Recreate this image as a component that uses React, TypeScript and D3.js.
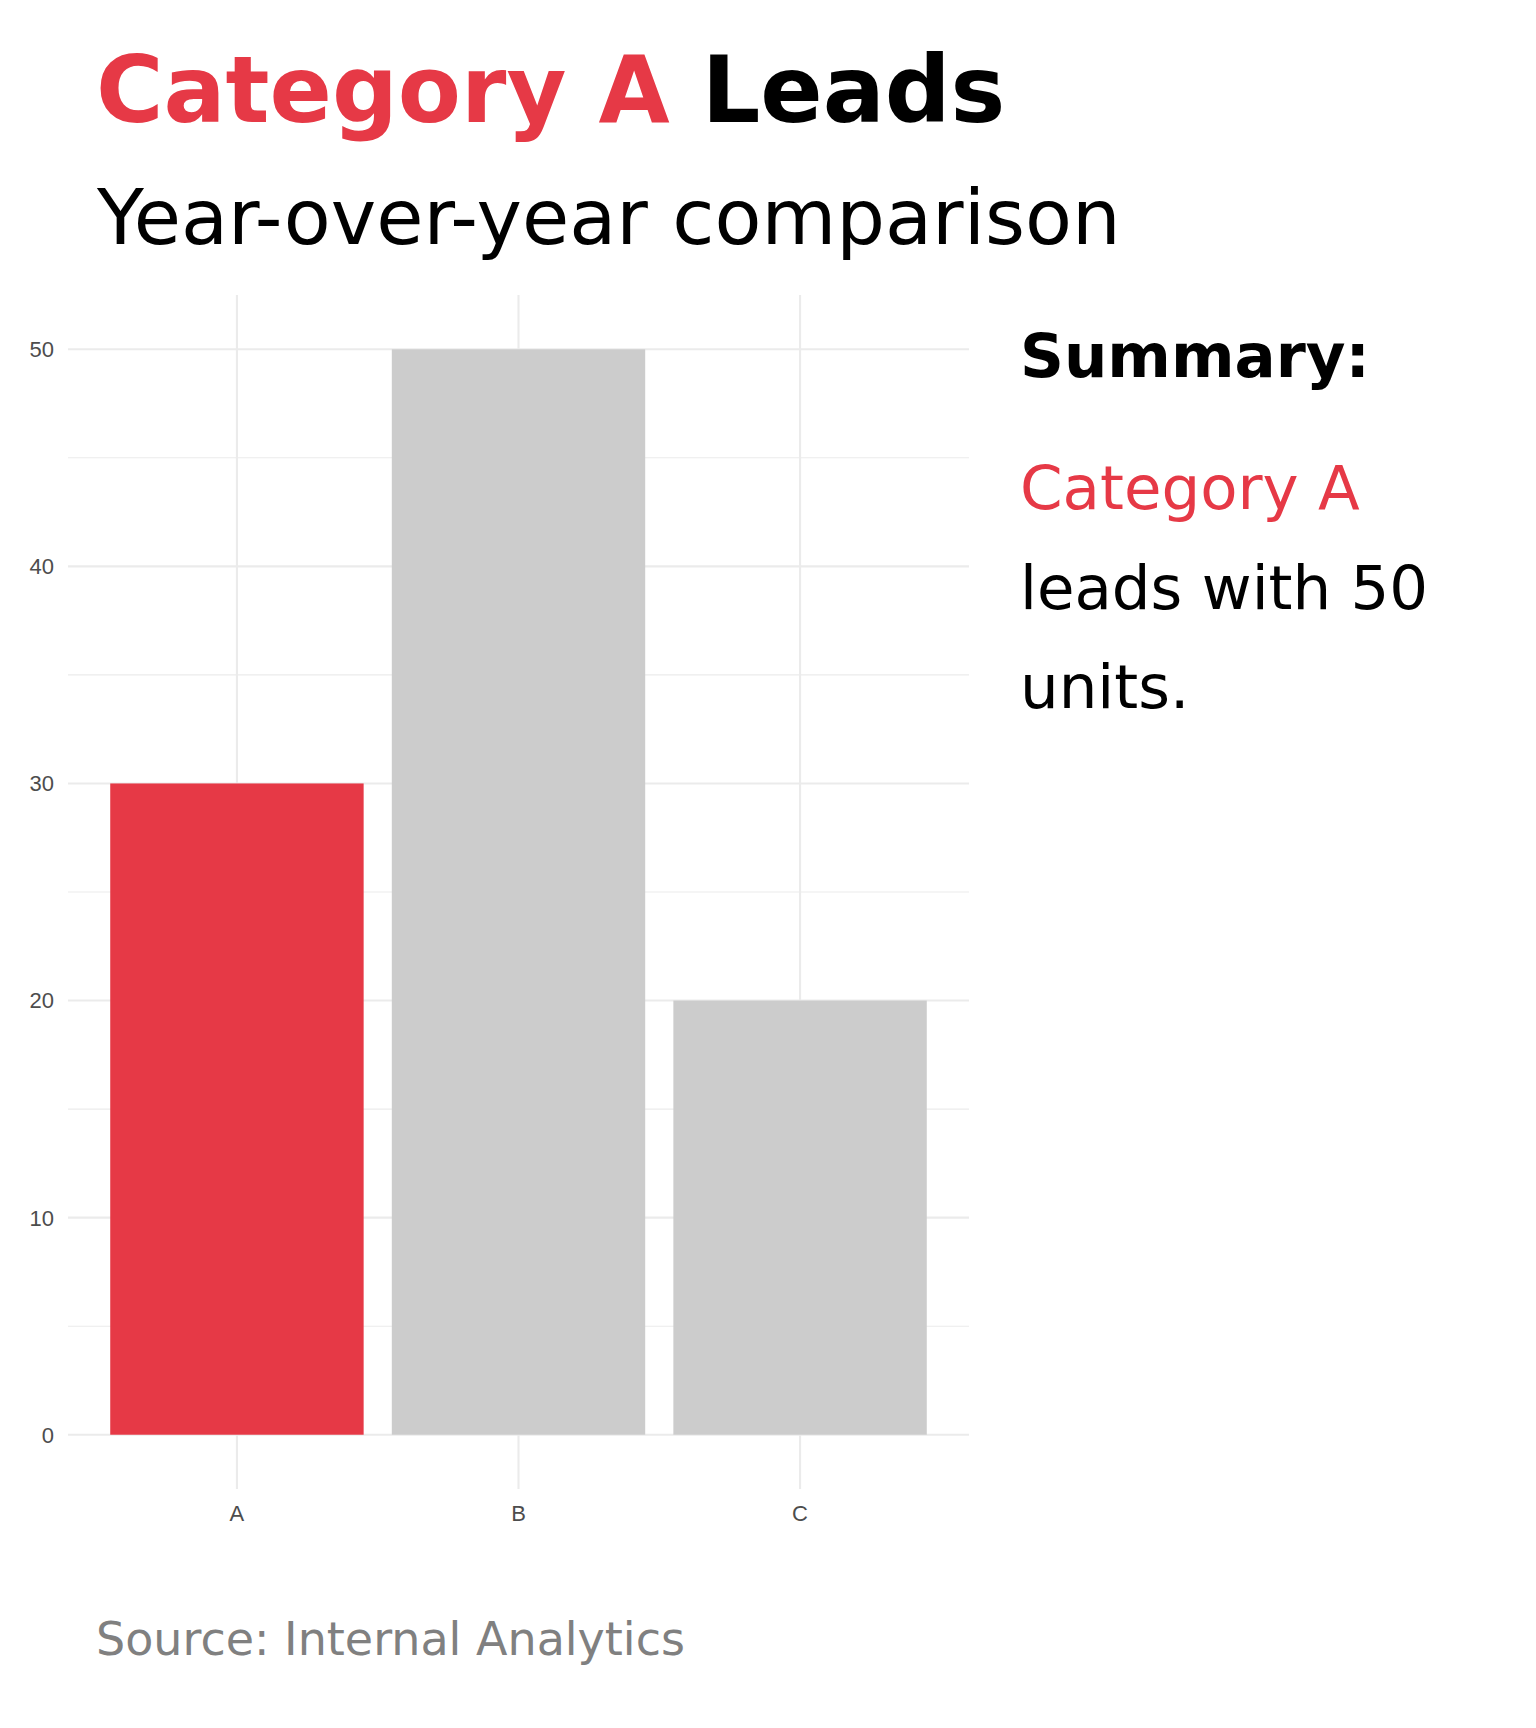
import { useEffect, useRef } from "react";
import * as d3 from "d3";

const categories = ["A", "B", "C"];
const values = [30, 50, 20];
const highlighted = "A";
const yTicks = [0, 10, 20, 30, 40, 50];
const yMinorTicks = [5, 15, 25, 35, 45];
const summaryLines = ["Category A", "leads with 50", "units."];

const RED = "#E63946";
const GREY = "#CCCCCC";

export default function App() {
  const svgRef = useRef<SVGSVGElement>(null);

  useEffect(() => {
    if (!svgRef.current) return;
    const svg = d3.select(svgRef.current);
    svg.selectAll("*").remove();

    const panel = { left: 68, right: 969, top: 295, bottom: 1489 };

    const x = d3
      .scaleBand()
      .domain(categories)
      .range([panel.left, panel.right])
      .paddingInner(0.1)
      .paddingOuter(0.15);

    const y = d3
      .scaleLinear()
      .domain([-2.5, 52.5])
      .range([panel.bottom, panel.top]);

    // Title
    const title = svg
      .append("text")
      .attr("x", 96)
      .attr("y", 122)
      .attr("font-family", "DejaVu Sans")
      .attr("font-weight", "bold")
      .attr("font-size", 92);
    title.append("tspan").attr("fill", RED).text("Category A");
    title.append("tspan").attr("fill", "#000").text(" Leads");

    svg
      .append("text")
      .attr("x", 97)
      .attr("y", 244)
      .attr("font-family", "DejaVu Sans")
      .attr("font-size", 76.8)
      .attr("fill", "#000")
      .text("Year-over-year comparison");

    // Grid lines
    const grid = svg.append("g");
    grid
      .selectAll(".minor")
      .data(yMinorTicks)
      .join("line")
      .attr("x1", panel.left)
      .attr("x2", panel.right)
      .attr("y1", (d) => y(d))
      .attr("y2", (d) => y(d))
      .attr("stroke", "#ebebeb")
      .attr("stroke-width", 1.1);

    grid
      .selectAll(".major")
      .data(yTicks)
      .join("line")
      .attr("x1", panel.left)
      .attr("x2", panel.right)
      .attr("y1", (d) => y(d))
      .attr("y2", (d) => y(d))
      .attr("stroke", "#ebebeb")
      .attr("stroke-width", 2.1);

    grid
      .selectAll(".vmajor")
      .data(categories)
      .join("line")
      .attr("x1", (d) => (x(d) || 0) + x.bandwidth() / 2)
      .attr("x2", (d) => (x(d) || 0) + x.bandwidth() / 2)
      .attr("y1", panel.top)
      .attr("y2", panel.bottom)
      .attr("stroke", "#ebebeb")
      .attr("stroke-width", 2.1);

    // Bars
    svg
      .append("g")
      .selectAll("rect")
      .data(categories)
      .join("rect")
      .attr("x", (d) => x(d) || 0)
      .attr("width", x.bandwidth())
      .attr("y", (_, i) => y(values[i]))
      .attr("height", (_, i) => y(0) - y(values[i]))
      .attr("fill", (d) => (d === highlighted ? RED : GREY));

    // Y axis labels
    svg
      .append("g")
      .selectAll("text")
      .data(yTicks)
      .join("text")
      .attr("x", 54)
      .attr("y", (d) => y(d))
      .attr("dy", "0.36em")
      .attr("text-anchor", "end")
      .attr("font-family", "Liberation Sans, Arial, sans-serif")
      .attr("font-size", 22)
      .attr("fill", "#4d4d4d")
      .text((d) => d);

    // X axis labels
    svg
      .append("g")
      .selectAll("text")
      .data(categories)
      .join("text")
      .attr("x", (d) => (x(d) || 0) + x.bandwidth() / 2)
      .attr("y", 1521)
      .attr("text-anchor", "middle")
      .attr("font-family", "Liberation Sans, Arial, sans-serif")
      .attr("font-size", 22)
      .attr("fill", "#4d4d4d")
      .text((d) => d);

    // Summary
    svg
      .append("text")
      .attr("x", 1020)
      .attr("y", 377)
      .attr("font-family", "DejaVu Sans")
      .attr("font-weight", "bold")
      .attr("font-size", 61)
      .attr("fill", "#000")
      .text("Summary:");

    svg
      .append("g")
      .selectAll("text")
      .data(summaryLines)
      .join("text")
      .attr("x", 1020)
      .attr("y", (_, i) => 509 + i * 99.5)
      .attr("font-family", "DejaVu Sans")
      .attr("font-size", 61)
      .attr("fill", (_, i) => (i === 0 ? RED : "#000"))
      .text((d) => d);

    // Caption
    svg
      .append("text")
      .attr("x", 96)
      .attr("y", 1655)
      .attr("font-family", "DejaVu Sans")
      .attr("font-size", 46)
      .attr("fill", "#808080")
      .text("Source: Internal Analytics");
  }, []);

  return (
    <div style={{ position: "absolute", left: 0, top: 0 }}>
      <svg
        ref={svgRef}
        width={1536}
        height={1728}
        style={{ display: "block", background: "#fff" }}
      />
    </div>
  );
}
